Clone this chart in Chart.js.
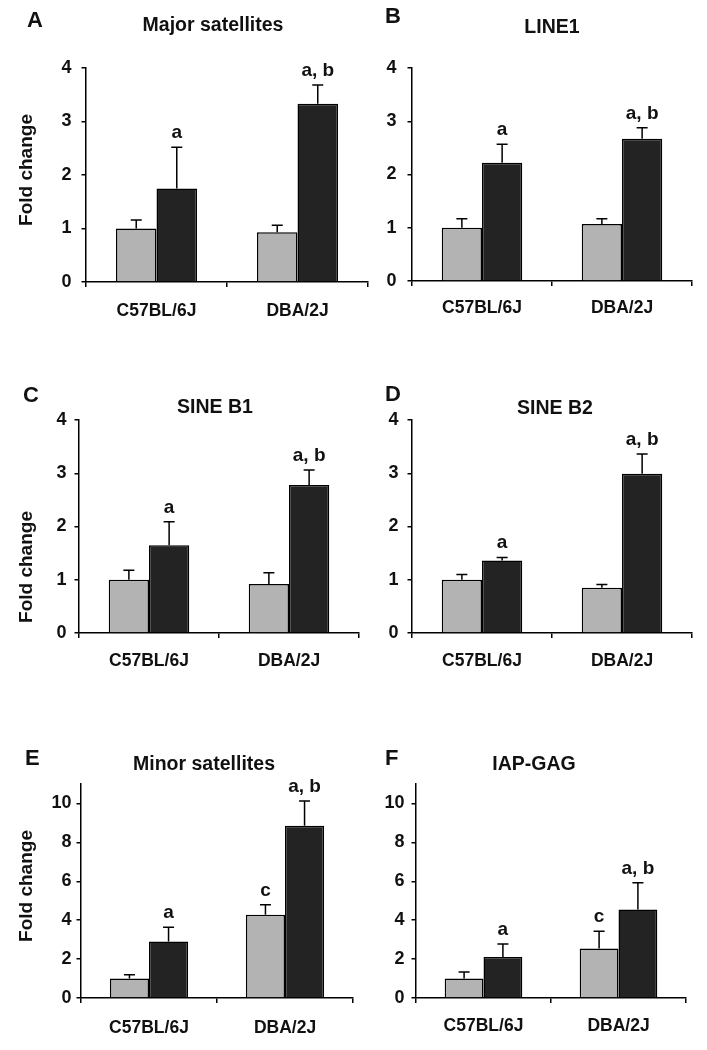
<!DOCTYPE html>
<html>
<head>
<meta charset="utf-8">
<script src="https://cdn.jsdelivr.net/npm/chart.js@4.4.1/dist/chart.umd.min.js"></script>
<style>
  html, body { margin: 0; padding: 0; background: #ffffff; }
  #wrap { position: relative; width: 707px; height: 1050px; overflow: hidden; background: #fff; }
  canvas { position: absolute; }
</style>
</head>
<body>
<div id="wrap"></div>
<script>
// ---------------- DATA ----------------
const categories = ['C57BL/6J', 'DBA/2J'];

// A: Major satellites
const aGrey = [1.00, 0.93];
const aGreyErr = [0.16, 0.13];
const aBlack = [1.75, 3.33];
const aBlackErr = [0.77, 0.35];
// B: LINE1
const bGrey = [1.00, 1.07];
const bGreyErr = [0.17, 0.10];
const bBlack = [2.22, 2.67];
const bBlackErr = [0.35, 0.21];
// C: SINE B1
const cGrey = [1.00, 0.92];
const cGreyErr = [0.18, 0.21];
const cBlack = [1.65, 2.78];
const cBlackErr = [0.44, 0.28];
// D: SINE B2
const dGrey = [1.00, 0.85];
const dGreyErr = [0.10, 0.06];
const dBlack = [1.36, 2.99];
const dBlackErr = [0.06, 0.37];
// E: Minor satellites
const eGrey = [1.00, 4.28];
const eGreyErr = [0.19, 0.51];
const eBlack = [2.90, 8.85];
const eBlackErr = [0.74, 1.27];
// F: IAP-GAG
const fGrey = [1.00, 2.54];
const fGreyErr = [0.34, 0.89];
const fBlack = [2.11, 4.55];
const fBlackErr = [0.67, 1.37];

// significance letters
const sigGreyAD = ['', ''];
const sigBlackAll = ['a', 'a, b'];
const sigGreyEF = ['', 'c'];

const panelLetters = ['A', 'B', 'C', 'D', 'E', 'F'];
const panelTitles = ['Major satellites', 'LINE1', 'SINE B1', 'SINE B2', 'Minor satellites', 'IAP-GAG'];
const yTitle = 'Fold change';
const yMaxSmall = 4;   // panels A-D
const yStepSmall = 1;
const yMaxLarge = 11;  // panels E-F (axis extends past last tick)
const yStepLarge = 2;

// ---------------- LAYOUT (positions only) ----------------
const FONT = '"Liberation Sans", Arial, Helvetica, sans-serif';
const GREY = '#b3b3b3';
const DARK = '#232323';
const INK = '#111111';

const panels = [
  { grey: aGrey, greyErr: aGreyErr, black: aBlack, blackErr: aBlackErr, sigG: sigGreyAD, sigB: sigBlackAll, max: yMaxSmall, step: yStepSmall,
    canvas: [0, 0, 375, 340], plot: [86, 368, 68, 282], yPad: 10, xPad: 14,
    letter: [27, 27], title: [213, 31], ytitle: [32, 170] },
  { grey: bGrey, greyErr: bGreyErr, black: bBlack, blackErr: bBlackErr, sigG: sigGreyAD, sigB: sigBlackAll, max: yMaxSmall, step: yStepSmall,
    canvas: [375, 0, 332, 340], plot: [412, 692, 68, 281], yPad: 11, xPad: 12,
    letter: [385, 23], title: [552, 33], ytitle: null },
  { grey: cGrey, greyErr: cGreyErr, black: cBlack, blackErr: cBlackErr, sigG: sigGreyAD, sigB: sigBlackAll, max: yMaxSmall, step: yStepSmall,
    canvas: [0, 340, 375, 355], plot: [79, 359, 420, 633], yPad: 8, xPad: 13,
    letter: [23, 402], title: [215, 413], ytitle: [32, 567] },
  { grey: dGrey, greyErr: dGreyErr, black: dBlack, blackErr: dBlackErr, sigG: sigGreyAD, sigB: sigBlackAll, max: yMaxSmall, step: yStepSmall,
    canvas: [375, 340, 332, 355], plot: [412, 692, 420, 633], yPad: 9, xPad: 13,
    letter: [385, 401], title: [555, 414], ytitle: null },
  { grey: eGrey, greyErr: eGreyErr, black: eBlack, blackErr: eBlackErr, sigG: sigGreyEF, sigB: sigBlackAll, max: yMaxLarge, step: yStepLarge,
    canvas: [0, 695, 375, 355], plot: [81, 353, 784, 998], yPad: 5, xPad: 15,
    letter: [25, 765], title: [204, 770], ytitle: [32, 886] },
  { grey: fGrey, greyErr: fGreyErr, black: fBlack, blackErr: fBlackErr, sigG: sigGreyEF, sigB: sigBlackAll, max: yMaxLarge, step: yStepLarge,
    canvas: [375, 695, 332, 355], plot: [416, 686, 784, 998], yPad: 7, xPad: 13,
    letter: [385, 765], title: [534, 770], ytitle: null }
];

const X_AXIS_H = 45;

// error bars + significance letters plugin
const errorBarPlugin = {
  id: 'errorBars',
  afterDatasetsDraw(chart) {
    const ctx = chart.ctx;
    const y = chart.scales.y;
    ctx.save();
    chart.data.datasets.forEach((ds, di) => {
      const meta = chart.getDatasetMeta(di);
      meta.data.forEach((bar, i) => {
        const v = ds.data[i];
        const top = v + ds.errors[i];
        const yv = y.getPixelForValue(v);
        const yt = y.getPixelForValue(top);
        const x = bar.x;
        ctx.strokeStyle = '#000';
        ctx.lineWidth = 1.5;
        ctx.beginPath();
        ctx.moveTo(x, yv);
        ctx.lineTo(x, yt);
        ctx.moveTo(x - 5.5, yt);
        ctx.lineTo(x + 5.5, yt);
        ctx.stroke();
        const s = ds.sig[i];
        if (s) {
          ctx.fillStyle = INK;
          ctx.font = 'bold 19px ' + FONT;
          ctx.textAlign = 'center';
          ctx.textBaseline = 'alphabetic';
          ctx.fillText(s, x, yt - 9);
        }
      });
    });
    ctx.restore();
  }
};

// panel text plugin
const panelTextPlugin = {
  id: 'panelText',
  afterDraw(chart) {
    const p = chart.options.plugins.panelText;
    const ctx = chart.ctx;
    const ox = p.ox, oy = p.oy;
    ctx.save();
    ctx.fillStyle = INK;
    ctx.textBaseline = 'alphabetic';
    ctx.textAlign = 'left';
    ctx.font = 'bold 22px ' + FONT;
    ctx.fillText(p.letterText, p.letter[0] - ox, p.letter[1] - oy);
    ctx.textAlign = 'center';
    ctx.font = 'bold 19.5px ' + FONT;
    ctx.fillText(p.titleText, p.title[0] - ox, p.title[1] - oy);
    if (p.ytitle) {
      ctx.save();
      ctx.translate(p.ytitle[0] - ox, p.ytitle[1] - oy);
      ctx.rotate(-Math.PI / 2);
      ctx.font = 'bold 19px ' + FONT;
      ctx.textAlign = 'center';
      ctx.fillText(yTitle, 0, 0);
      ctx.restore();
    }
    ctx.restore();
  }
};

Chart.defaults.font.family = FONT;
Chart.defaults.font.weight = 'bold';
Chart.defaults.color = INK;

const wrap = document.getElementById('wrap');

panels.forEach((p, idx) => {
  const [cx, cy, cw, ch] = p.canvas;
  const [pl, pr, pt, pb] = p.plot;
  const cv = document.createElement('canvas');
  cv.width = cw; cv.height = ch;
  cv.style.left = cx + 'px'; cv.style.top = cy + 'px';
  cv.style.width = cw + 'px'; cv.style.height = ch + 'px';
  wrap.appendChild(cv);

  const yWidth = pl - cx;
  const padTop = pt - cy;
  const padRight = (cx + cw) - pr;
  const padBottom = (cy + ch) - pb - X_AXIS_H;

  new Chart(cv, {
    type: 'bar',
    data: {
      labels: categories,
      datasets: [
        { data: p.grey, errors: p.greyErr, sig: p.sigG, backgroundColor: GREY, borderColor: '#000', borderWidth: 1.5,
          categoryPercentage: 0.575, barPercentage: 1.0 },
        { data: p.black, errors: p.blackErr, sig: p.sigB, backgroundColor: DARK, borderColor: '#000', borderWidth: 1.5,
          categoryPercentage: 0.575, barPercentage: 1.0 }
      ]
    },
    options: {
      responsive: false,
      animation: false,
      devicePixelRatio: 1,
      layout: { padding: { left: 0, top: padTop, right: padRight, bottom: padBottom } },
      plugins: {
        legend: { display: false },
        tooltip: { enabled: false },
        title: { display: false },
        panelText: { ox: cx, oy: cy, letter: p.letter, letterText: panelLetters[idx], title: p.title, titleText: panelTitles[idx], ytitle: p.ytitle }
      },
      scales: {
        x: {
          offset: true,
          grid: { display: true, offset: true, drawOnChartArea: false, drawTicks: true, tickLength: 5, color: '#000', lineWidth: 1.5 },
          border: { display: true, color: '#000', width: 1.5 },
          ticks: { font: { size: 17.5, weight: 'bold' }, color: INK, padding: p.xPad, maxRotation: 0, autoSkip: false },
          afterFit(scale) { scale.height = X_AXIS_H; }
        },
        y: {
          min: 0, max: p.max,
          grid: { display: true, drawOnChartArea: false, drawTicks: true, tickLength: 4.5, color: '#000', lineWidth: 1.5 },
          border: { display: true, color: '#000', width: 1.5 },
          ticks: { stepSize: p.step, includeBounds: false, font: { size: 18, weight: 'bold' }, color: INK, padding: p.yPad },
          afterBuildTicks(scale) { scale.ticks = scale.ticks.filter(t => Math.abs(t.value / p.step - Math.round(t.value / p.step)) < 1e-9); },
          afterFit(scale) { scale.width = yWidth; }
        }
      }
    },
    plugins: [errorBarPlugin, panelTextPlugin]
  });
});
</script>
</body>
</html>
